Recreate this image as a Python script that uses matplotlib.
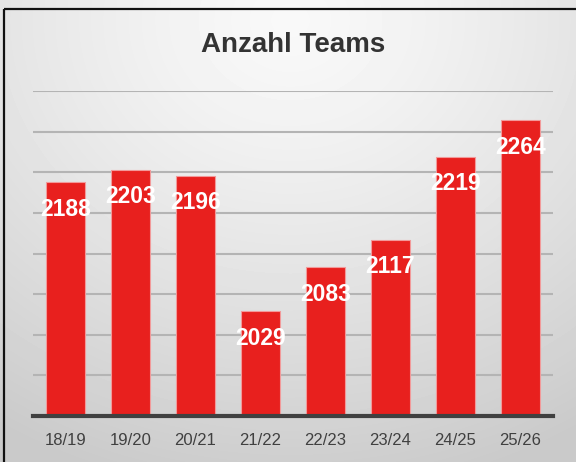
import numpy as np
import matplotlib
matplotlib.use("Agg")
import matplotlib.pyplot as plt
from matplotlib.patches import Rectangle

categories = ["18/19", "19/20", "20/21", "21/22", "22/23", "23/24", "24/25", "25/26"]
teams = [2188, 2203, 2196, 2029, 2083, 2117, 2219, 2264]
title = "Anzahl Teams"

W, H = 576, 462
fig = plt.figure(figsize=(W / 100, H / 100), dpi=100)

# background radial gradient
bg = fig.add_axes([0, 0, 1, 1], zorder=0)
yy, xx = np.mgrid[0:H, 0:W]
cx, cy = 290, 20
r = np.sqrt(((xx - cx) / 1.15) ** 2 + (yy - cy) ** 2)
r = np.clip(r / 480.0, 0, 1)
light, dark = 0.975, 0.79
img = light - (light - dark) * r ** 1.3
bg.imshow(img, cmap="gray", vmin=0, vmax=1, extent=[0, W, H, 0], aspect="auto", interpolation="bilinear")
bg.set_xlim(0, W)
bg.set_ylim(H, 0)
bg.axis("off")
bg.add_patch(Rectangle((3.5, 8.5), W + 10, H + 10, fill=False, edgecolor="#111111", linewidth=1.6))

x0, x1 = 33, 553
ybase, ytop = 416, 91
ax = fig.add_axes([x0 / W, (H - ybase) / H, (x1 - x0) / W, (ybase - ytop) / H], zorder=1)
ax.patch.set_alpha(0)
x = np.arange(len(categories))
ax.set_xlim(-0.5, len(categories) - 0.5)
ax.set_ylim(1900, 2300)
ax.set_yticks(np.arange(1950, 2301, 50))
ax.yaxis.grid(True, color="#b4b4b4", linewidth=1.5)
ax.set_axisbelow(True)
ax.bar(x, teams, width=0.6, color="#e8201e", edgecolor="#f29a9a", linewidth=0.8, zorder=2)

for xi, v in zip(x, teams):
    ax.annotate(str(v), (xi, v), xytext=(0, -27), textcoords="offset pixels",
                ha="center", va="center", color="white", fontsize=16.5, fontweight="bold",
                family="Liberation Sans", zorder=3)

for s in ["top", "right", "left"]:
    ax.spines[s].set_visible(False)
ax.spines["bottom"].set_color("#404040")
ax.spines["bottom"].set_linewidth(3)
ax.spines["bottom"].set_zorder(4)
ax.tick_params(axis="y", left=False, labelleft=False)
ax.tick_params(axis="x", length=0, pad=12, labelsize=12, labelcolor="#404040")
ax.set_xticks(x)
ax.set_xticklabels(categories, family="Liberation Sans")

fig.text(293 / W, 1 - 45 / H, title, ha="center", va="center", fontsize=20, fontweight="bold",
         color="#333333", family="Liberation Sans")

fig.savefig("out.png", dpi=100)
